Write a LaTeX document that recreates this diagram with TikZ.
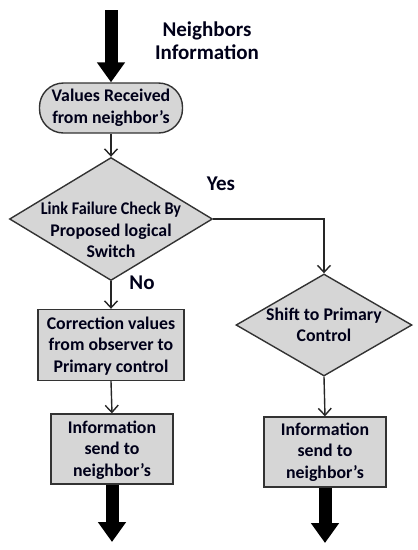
\documentclass[tikz,border=0pt]{standalone}
\usepackage{fontspec}
\setmainfont{Carlito}
\usetikzlibrary{shapes.geometric,arrows.meta}

\tikzset{
  boxfill/.style={draw=black!80, line width=1.4pt, fill=gray!32},
  procbox/.style={boxfill, rectangle, inner sep=0pt},
  startbox/.style={boxfill, rectangle, rounded corners=24pt, inner sep=0pt},
  decision/.style={boxfill, diamond, inner sep=0pt},
  label/.style={font=\bfseries\fontsize{17.8}{21.5}\selectfont, align=center, text=black!90!blue},
  biglabel/.style={label, font=\bfseries\fontsize{21}{23}\selectfont},
  flow/.style={line width=1.4pt, draw=black!85, -{Straight Barb[length=7pt,width=13pt]}},
  bigarrow/.style={line width=13pt, -{Triangle[length=20pt,width=27pt]}},
}

\begin{document}
\begin{tikzpicture}[x=1pt, y=-1pt]
    \useasboundingbox (0,0) rectangle (418,550);

    \node[startbox, minimum width=143pt, minimum height=50pt] (start) at (111,108) {};
    \node[label] (starttext) at (111,108) {Values Received\\from neighbor's};

    \node[decision, minimum width=203pt, minimum height=123pt] (check) at (111,219) {};
    \node[label] (checktext) at (111,230) {\scalebox{0.91}[1]{Link Failure Check By}\\Proposed logical\\Switch};

    \node[procbox, minimum width=146pt, minimum height=71pt] (correct) at (111,345) {};
    \node[label] (correcttext) at (111,346) {Correction values\\from observer to\\Primary control};

    \node[procbox, minimum width=122pt, minimum height=70pt] (sendleft) at (112,449) {};
    \node[label] (sendlefttext) at (112,450) {Information\\send to\\neighbor's};

    \node[decision, minimum width=176pt, minimum height=102pt] (shift) at (324,325) {};
    \node[label] (shifttext) at (324,325) {Shift to Primary\\Control};

    \node[procbox, minimum width=122pt, minimum height=70pt] (sendright) at (325,452) {};
    \node[label] (sendrighttext) at (325,452) {Information\\send to\\neighbor's};

    \node[biglabel] (neighbors) at (207,41) {Neighbors\\Information};
    \node[biglabel] (yes) at (221,184) {Yes};
    \node[biglabel] (no) at (142,283) {No};

    \coordinate (inflow) at (111,10);
    \coordinate (outleft) at (112,542);
    \coordinate (outright) at (325,543);

    \draw[bigarrow] (inflow) -- (start.north);
    \draw[flow] (start.south) -- (check.north);
    \draw[flow] (check.south) -- (correct.north);
    \draw[flow] (correct.south) -- (sendleft.north);
    \draw[flow] (check.east) -| (shift.north);
    \draw[flow] (shift.south) -- (sendright.north);
    \draw[bigarrow] (sendleft.south) -- (outleft);
    \draw[bigarrow] (sendright.south) -- (outright);
\end{tikzpicture}
\end{document}
